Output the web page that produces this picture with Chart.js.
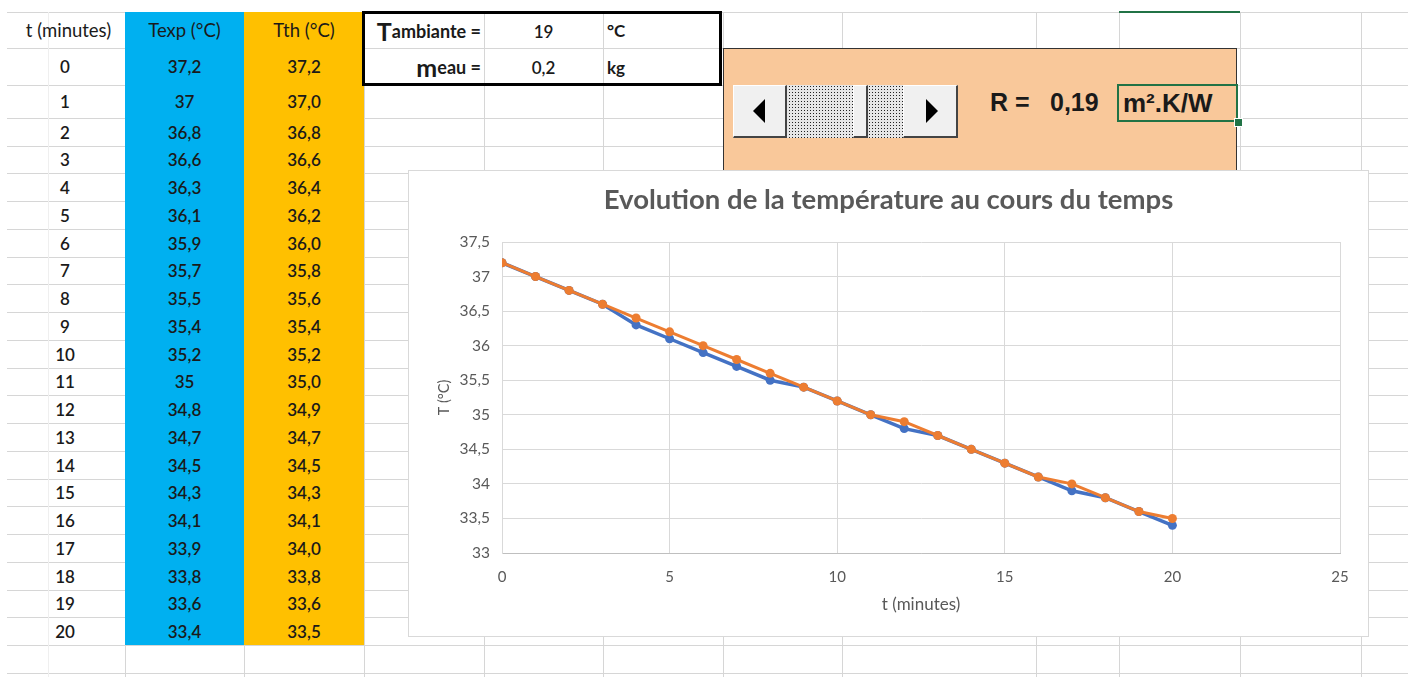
<!DOCTYPE html>
<html>
<head>
<meta charset="utf-8">
<script src="https://cdn.jsdelivr.net/npm/chart.js@4.4.1/dist/chart.umd.min.js"></script>
<style>
html,body{margin:0;padding:0;background:#fff;width:1408px;height:677px;overflow:hidden;font-family:Lato,"Open Sans",sans-serif;}
#sheet{position:absolute;left:0;top:0;width:1408px;height:677px;}
.hl{position:absolute;height:1px;background:#D6D6D6;}
.vl{position:absolute;width:1px;background:#D6D6D6;}
.cell{position:absolute;display:flex;align-items:center;justify-content:center;font-size:17px;font-weight:600;color:#1a1a1a;white-space:nowrap;}
.blue{position:absolute;left:125px;top:12px;width:119px;height:633px;background:#00B0F0;}
.yellow{position:absolute;left:244px;top:12px;width:120px;height:633px;background:#FFC000;}
#box{position:absolute;left:362px;top:11px;width:354px;height:69px;border:3px solid #000;}
#orange{position:absolute;left:723px;top:48px;width:514px;height:140px;background:#F9C89A;border:1px solid #333;box-sizing:border-box;}
.btn{position:absolute;top:85px;height:53px;background:#F0F0F0;border-right:2px solid #444;border-bottom:2px solid #444;box-sizing:border-box;border-top:1px solid #fff;border-left:1px solid #fff;}
.track{position:absolute;top:85px;height:53px;background-color:#e6e6e6;background-image:radial-gradient(circle at 1.5px 1.5px,#222 0.65px,transparent 1px);background-size:3px 3px;}
.big{font-family:"Liberation Sans",Arial,sans-serif;font-weight:bold;font-size:25px;color:#1a1a1a;position:absolute;white-space:nowrap;}
#sel{position:absolute;left:1117px;top:84px;width:121px;height:38px;border:2px solid #217346;box-sizing:border-box;}
#handle{position:absolute;left:1234px;top:118px;width:7px;height:7px;background:#217346;border:1px solid #fff;}
#chartBox{position:absolute;left:408px;top:170px;width:961px;height:467px;background:#fff;border:1px solid #D9D9D9;box-sizing:border-box;}
#chartBox canvas{position:absolute;left:0;top:0;}
</style>
</head>
<body>
<div id="sheet"></div>
<div id="chartBox"><canvas id="c" width="959" height="465"></canvas></div>
<script>
// ---- data ----
const tMinutes = [0,1,2,3,4,5,6,7,8,9,10,11,12,13,14,15,16,17,18,19,20];
const texp = [37.2,37,36.8,36.6,36.3,36.1,35.9,35.7,35.5,35.4,35.2,35,34.8,34.7,34.5,34.3,34.1,33.9,33.8,33.6,33.4];
const tth  = [37.2,37.0,36.8,36.6,36.4,36.2,36.0,35.8,35.6,35.4,35.2,35.0,34.9,34.7,34.5,34.3,34.1,34.0,33.8,33.6,33.5];
const headers = ["t (minutes)","Texp (°C)","Tth (°C)"];
const tAmbiante = "19";
const mEau = "0,2";
const rValue = "0,19";
const rUnit = "m².K/W";
const chartTitle = "Evolution de la température au cours du temps";
const xTitle = "t (minutes)";
const yTitle = "T (°C)";

// ---- spreadsheet layout ----
const sheet = document.getElementById('sheet');
function el(cls, css, html){const d=document.createElement('div');d.className=cls;Object.assign(d.style,css);if(html!==undefined)d.innerHTML=html;sheet.appendChild(d);return d;}
const rowTops=[12,48,85,118];
for(let i=3;i<=21;i++) rowTops.push(Math.round(118+27.74*(i-2)));
rowTops.push(673);
rowTops.forEach(y=>el('hl',{left:'7px',top:y+'px',width:'1401px'}));
[125,244,364,484,603,723,842,1036,1119,1240,1361].forEach(x=>el('vl',{left:x+'px',top:'12px',height:'665px'}));
el('vl',{left:'48px',top:'12px',height:'665px',background:'#EFEFEF'});
el('blue',{});el('yellow',{});

// headers
const colX=[[0,125],[125,244],[244,364]];
headers.forEach((h,i)=>el('cell',{left:(colX[i][0]+(i===0?6:0))+'px',width:(colX[i][1]-colX[i][0])+'px',top:'12px',height:'36px',fontSize:'18.5px',fontWeight:'normal'},h));
// rows
tMinutes.forEach((t,i)=>{
  const top=rowTops[i+1], h=rowTops[i+2]-top;
  el('cell',{left:'10px',width:'110px',top:top+'px',height:h+'px'},String(t));
  el('cell',{left:'125px',width:'119px',top:top+'px',height:h+'px'},String(texp[i]).replace('.',','));
  el('cell',{left:'244px',width:'120px',top:top+'px',height:h+'px'},tth[i].toFixed(1).replace('.',','));
});

// parameter box
el('',{position:'absolute',left:'364px',top:'12px',width:'120px',height:'74px',background:'#fff'});
el('',{position:'absolute',left:'485px',top:'12px',width:'237px',height:'74px',background:'#fff'});
el('hl',{left:'364px',top:'48px',width:'358px'});
el('vl',{left:'484px',top:'12px',height:'74px'});
el('vl',{left:'603px',top:'12px',height:'74px'});
el('cell',{left:'364px',width:'117px',top:'12px',height:'38px',justifyContent:'flex-end',fontWeight:'bold',fontSize:'18px'},'<span style="font-size:25px">T</span>ambiante =');
el('cell',{left:'364px',width:'117px',top:'48px',height:'38px',justifyContent:'flex-end',fontWeight:'bold',fontSize:'18px'},'<span style="font-size:25px">m</span>eau =');
el('cell',{left:'484px',width:'119px',top:'12px',height:'38px',fontSize:'17px'},tAmbiante);
el('cell',{left:'484px',width:'119px',top:'48px',height:'38px',fontSize:'17px'},mEau);
el('cell',{left:'607px',width:'100px',top:'12px',height:'36px',justifyContent:'flex-start',fontWeight:'bold',fontSize:'17px'},'°C');
el('cell',{left:'607px',width:'100px',top:'48px',height:'38px',justifyContent:'flex-start',fontWeight:'bold',fontSize:'17px'},'kg');
const box=document.createElement('div');box.id='box';sheet.appendChild(box);

// orange panel with scrollbar
const op=document.createElement('div');op.id='orange';sheet.appendChild(op);
el('track',{left:'785px',width:'70px'});
el('btn',{left:'853px',width:'15px'});
el('track',{left:'868px',width:'36px'});
el('btn',{left:'733px',width:'54px'},'<svg width="52" height="50" style="position:absolute;left:0;top:0"><polygon points="19,25 31,13 31,37" fill="#000"/></svg>');
el('btn',{left:'903px',width:'55px'},'<svg width="52" height="50" style="position:absolute;left:0;top:0"><polygon points="34,25 22,13 22,37" fill="#000"/></svg>');
el('big',{left:'990px',top:'88px'},'R =');
el('big',{left:'1050px',top:'88px'},rValue);
const sel=document.createElement('div');sel.id='sel';sheet.appendChild(sel);
el('big',{left:'1123px',top:'88px',fontSize:'26px'},rUnit);
const hd=document.createElement('div');hd.id='handle';sheet.appendChild(hd);
el('',{position:'absolute',left:'1119px',top:'11px',width:'121px',height:'2px',background:'#217346'});

// ---- chart ----
const gray='#595959';
const fam='Lato, "Open Sans", sans-serif';
new Chart(document.getElementById('c'),{
  type:'scatter',
  data:{datasets:[
    {label:'Tth',data:tMinutes.map((t,i)=>({x:t,y:tth[i]})),showLine:true,borderColor:'#ED7D31',backgroundColor:'#ED7D31',borderWidth:3,pointRadius:4.5,pointBorderWidth:0,order:0},
    {label:'Texp',data:tMinutes.map((t,i)=>({x:t,y:texp[i]})),showLine:true,borderColor:'#4472C4',backgroundColor:'#4472C4',borderWidth:3.5,pointRadius:4.5,pointBorderWidth:0,order:1}
  ]},
  options:{
    responsive:false,animation:false,
    layout:{padding:0},
    plugins:{
      legend:{display:false},tooltip:{enabled:false},
      title:{display:true,text:chartTitle,color:gray,font:{family:fam,size:27.5,weight:'bold'},padding:{top:13,bottom:25}}
    },
    scales:{
      x:{type:'linear',min:0,max:25,
        ticks:{stepSize:5,color:gray,font:{family:fam,size:15},padding:15},
        grid:{color:'#D9D9D9',drawTicks:false},
        border:{color:'#BFBFBF'},
        title:{display:true,text:xTitle,color:gray,font:{family:fam,size:17},padding:{top:0,bottom:21}},
        afterFit:s=>{s.height=83;}
      },
      y:{min:33,max:37.5,
        ticks:{stepSize:0.5,color:gray,font:{family:fam,size:15.5},padding:12,callback:v=>String(v).replace('.',',')},
        grid:{color:'#D9D9D9',drawTicks:false},
        border:{color:'#D9D9D9'},
        title:{display:true,text:yTitle,color:gray,font:{family:fam,size:14.5},padding:{top:27,bottom:0}},
        afterFit:s=>{s.width=93;}
      },
      spacer:{position:'right',min:0,max:1,
        ticks:{display:false},grid:{display:false,drawTicks:false},border:{display:false},
        afterFit:s=>{s.width=28;}
      }
    }
  }
});
</script>
</body>
</html>
